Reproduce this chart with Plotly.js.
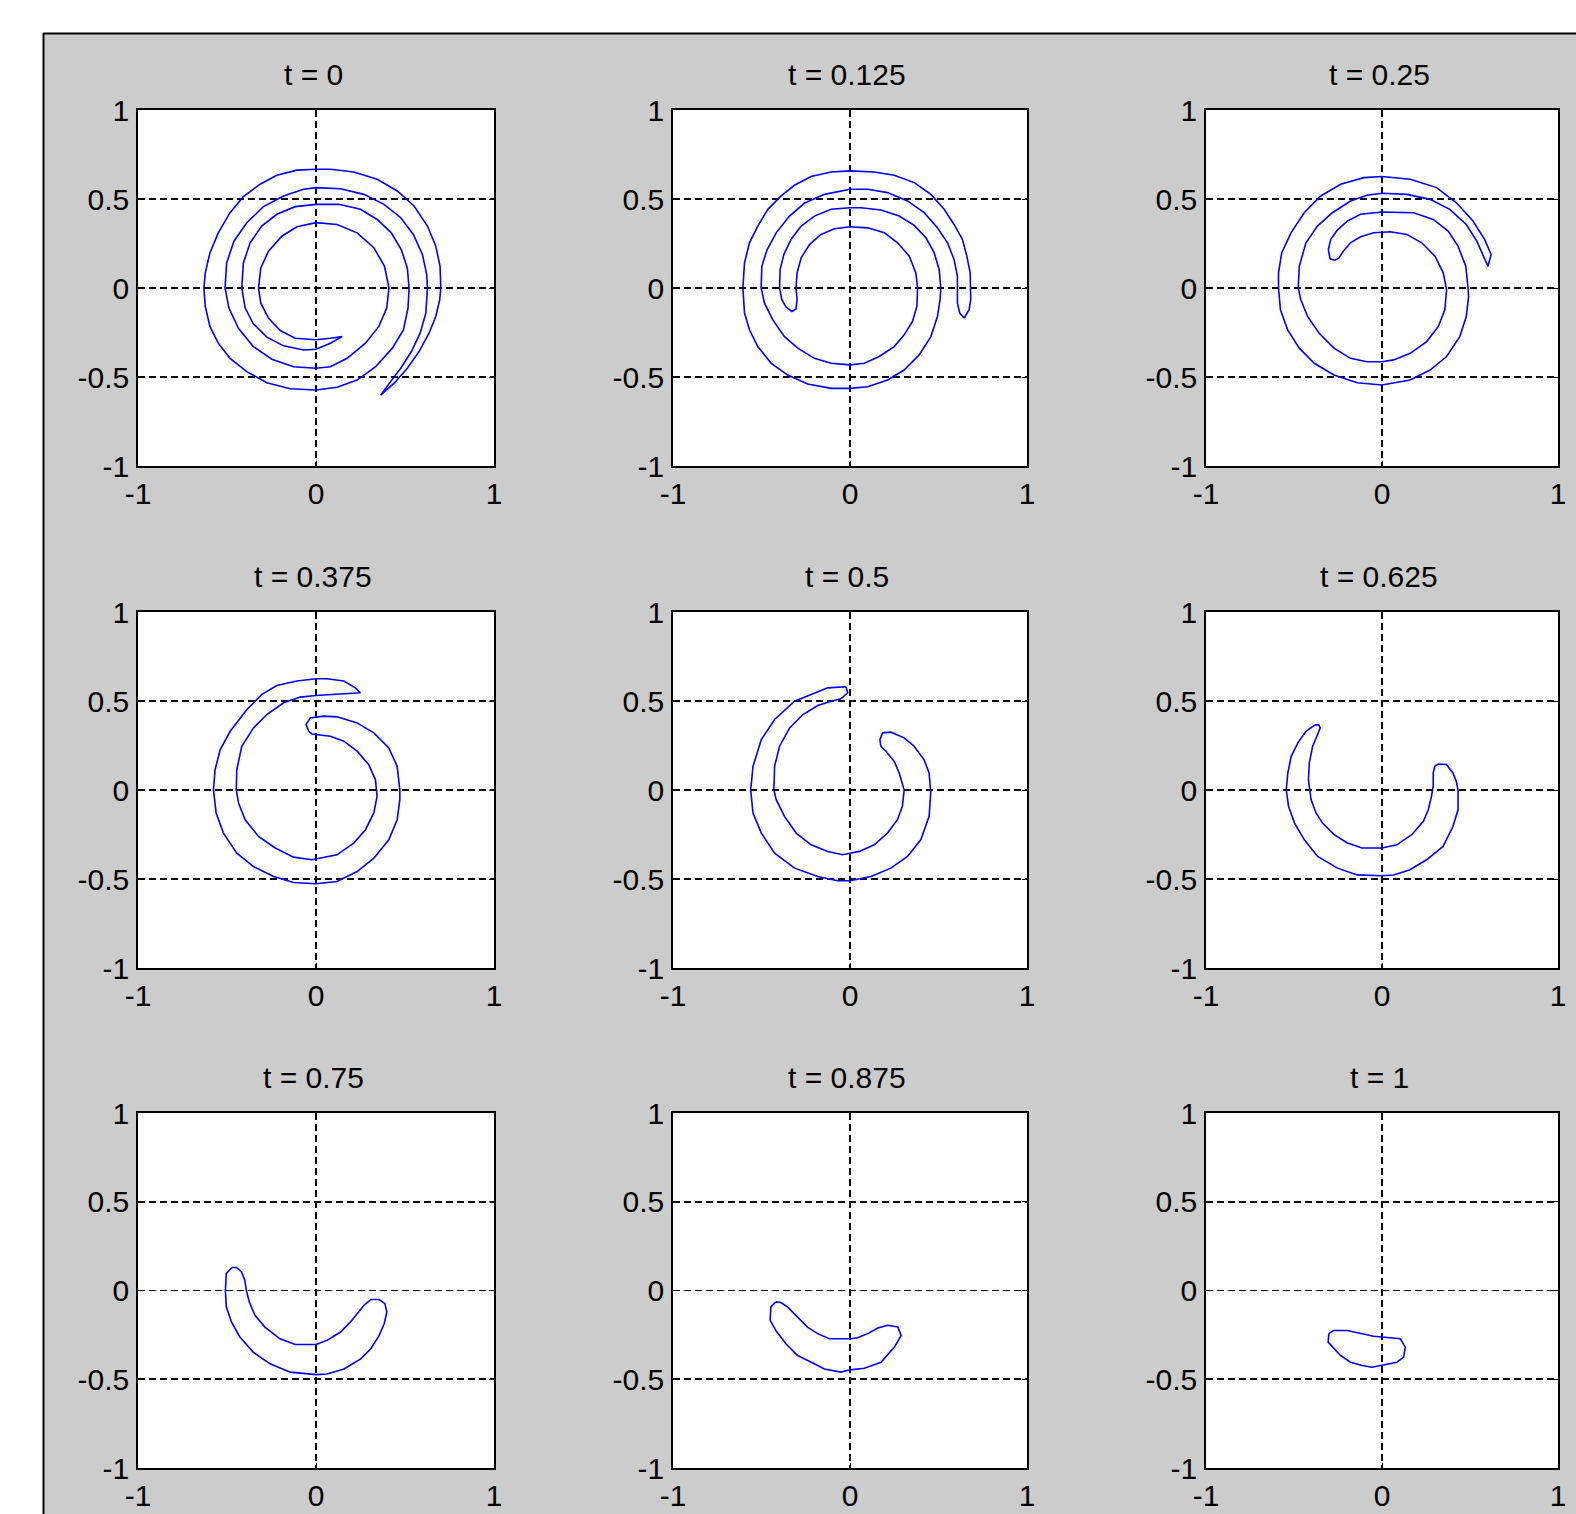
<!DOCTYPE html>
<html><head><meta charset="utf-8">
<script src="https://cdn.plot.ly/plotly-3.0.1.min.js"></script>
<style>html,body{margin:0;padding:0;background:#fff;overflow:hidden}</style>
</head><body><div id="chart" style="width:1576px;height:1514px"></div>
<script>
const titles = ['t = 0','t = 0.125','t = 0.25','t = 0.375','t = 0.5','t = 0.625','t = 0.75','t = 0.875','t = 1'];
const xTickVals = [-1,0,1];
const xTickText = ['-1','0','1'];
const yTickVals = [-1,-0.5,0,0.5,1];
const yTickText = ['-1','-0.5','0','0.5','1'];

const x_t0 = [0.363,0.438,0.513,0.579,0.635,0.673,0.695,0.701,0.697,0.673,0.626,0.551,0.457,0.344,0.212,0.081,0,-0.107,-0.220,-0.314,-0.408,-0.483,-0.549,-0.596,-0.622,-0.630,-0.622,-0.596,-0.549,-0.483,-0.389,-0.276,-0.145,0,0.118,0.231,0.335,0.429,0.491,0.517,0.523,0.513,0.479,0.423,0.344,0.250,0.128,0,-0.117,-0.220,-0.305,-0.370,-0.408,-0.417,-0.398,-0.352,-0.276,-0.182,-0.070,0,0.081,0.147,0.081,0,-0.117,-0.201,-0.267,-0.310,-0.323,-0.310,-0.267,-0.192,-0.107,0,0.118,0.231,0.325,0.385,0.410,0.397,0.353,0.278,0.175,0.081,0,-0.126,-0.248,-0.352,-0.436,-0.489,-0.511,-0.502,-0.461,-0.389,-0.295,-0.182,-0.070,0,0.137,0.269,0.382,0.476,0.547,0.598,0.622,0.626,0.617,0.585,0.536,0.476,0.419,0.363];
const y_t0 = [-0.602,-0.536,-0.451,-0.357,-0.254,-0.160,-0.066,0,0.122,0.235,0.348,0.461,0.545,0.611,0.652,0.667,0.667,0.662,0.633,0.583,0.513,0.423,0.310,0.197,0.085,0,-0.103,-0.216,-0.310,-0.395,-0.470,-0.532,-0.566,-0.573,-0.558,-0.517,-0.442,-0.338,-0.235,-0.113,0,0.113,0.216,0.310,0.385,0.442,0.470,0.470,0.457,0.414,0.348,0.254,0.141,0,-0.113,-0.201,-0.276,-0.325,-0.348,-0.344,-0.310,-0.273,-0.282,-0.291,-0.282,-0.239,-0.169,-0.085,0,0.113,0.207,0.291,0.344,0.367,0.357,0.310,0.226,0.122,0,-0.113,-0.216,-0.310,-0.395,-0.442,-0.451,-0.442,-0.400,-0.329,-0.226,-0.113,0,0.141,0.263,0.367,0.457,0.517,0.555,0.564,0.558,0.526,0.470,0.395,0.301,0.188,0.075,0,-0.141,-0.254,-0.357,-0.451,-0.526,-0.602];

const x_t0125 = [0.645,0.673,0.682,0.682,0.679,0.660,0.635,0.588,0.532,0.457,0.363,0.250,0.137,0,-0.107,-0.220,-0.314,-0.389,-0.464,-0.521,-0.568,-0.596,-0.605,-0.596,-0.568,-0.521,-0.445,-0.352,-0.239,-0.107,0,0.100,0.212,0.306,0.391,0.457,0.494,0.509,0.513,0.504,0.476,0.429,0.363,0.278,0.175,0.062,0,-0.107,-0.201,-0.276,-0.333,-0.374,-0.395,-0.398,-0.385,-0.361,-0.329,
  -0.305,-0.299,-0.305,-0.299,-0.276,-0.229,-0.164,-0.088,0,0.100,0.194,0.269,0.335,0.372,0.382,0.378,0.353,0.306,0.250,0.165,0.081,0,-0.107,-0.201,-0.295,-0.370,-0.436,-0.483,-0.502,-0.498,-0.468,-0.417,-0.342,-0.258,-0.145,0,0.100,0.212,0.325,0.419,0.494,0.551,0.588,0.607,0.607,0.607,0.620,0.645];
const y_t0125 = [-0.169,-0.122,-0.066,0,0.085,0.179,0.273,0.357,0.442,0.526,0.592,0.633,0.652,0.658,0.652,0.626,0.577,0.517,0.442,0.348,0.254,0.141,0,-0.141,-0.235,-0.329,-0.423,-0.489,-0.539,-0.564,-0.564,-0.555,-0.517,-0.461,-0.376,-0.273,-0.160,-0.066,0,0.103,0.197,0.282,0.352,0.404,0.438,0.451,0.451,0.442,0.404,0.348,0.273,0.188,0.103,0,-0.066,-0.107,-0.132,
  -0.118,-0.066,0,0.085,0.169,0.244,0.301,0.333,0.344,0.338,0.310,0.254,0.179,0.085,0,-0.103,-0.188,-0.263,-0.329,-0.385,-0.423,-0.432,-0.423,-0.395,-0.338,-0.273,-0.179,-0.085,0,0.122,0.216,0.310,0.404,0.476,0.526,0.555,0.555,0.536,0.489,0.423,0.338,0.254,0.160,0.066,0,-0.085,-0.141,-0.169];

const x_t025 = [0.602,0.620,0.583,0.517,0.423,0.310,0.160,0,-0.103,-0.235,-0.348,-0.442,-0.517,-0.570,-0.588,-0.588,-0.577,-0.536,-0.470,-0.385,-0.273,-0.141,0,0.160,0.273,0.367,0.442,0.479,0.492,0.489,0.476,0.432,0.376,0.291,0.179,0,-0.122,-0.197,-0.254,-0.291,-0.305,-0.295,-0.269,
  -0.244,-0.220,-0.179,-0.122,-0.047,0.047,0.141,0.226,0.301,0.348,0.367,0.357,0.320,0.254,0.160,0.066,0,-0.085,-0.179,-0.273,-0.357,-0.423,-0.461,-0.476,-0.470,-0.432,-0.367,-0.282,-0.179,-0.085,0,0.141,0.273,0.385,0.479,0.539,0.577,0.598,0.602];
const y_t025 = [0.122,0.188,0.273,0.376,0.479,0.564,0.611,0.626,0.620,0.583,0.517,0.423,0.310,0.197,0.085,0,-0.122,-0.235,-0.338,-0.423,-0.489,-0.532,-0.545,-0.517,-0.461,-0.385,-0.273,-0.160,-0.047,0,0.122,0.235,0.320,0.385,0.423,0.427,0.414,0.376,0.325,0.273,0.216,0.164,0.156,
  0.169,0.207,0.254,0.288,0.310,0.316,0.301,0.254,0.179,0.085,-0.009,-0.122,-0.216,-0.301,-0.367,-0.404,-0.414,-0.414,-0.395,-0.338,-0.254,-0.160,-0.066,0,0.122,0.254,0.348,0.423,0.489,0.521,0.532,0.526,0.498,0.442,0.357,0.263,0.179,0.132,0.122];

const x_t0375 = [0.250,0.221,0.156,0.062,0,-0.107,-0.220,-0.304,-0.388,-0.482,-0.538,-0.567,-0.576,-0.561,-0.520,-0.445,-0.351,-0.238,-0.126,0,0.118,0.231,0.325,0.409,0.456,0.471,0.471,0.456,0.409,0.325,0.231,0.118,0.043,-0.032,-0.056,-0.041,-0.023,
  0.006,0.081,0.156,0.231,0.296,0.334,0.343,0.325,0.278,0.212,0.118,0.024,-0.023,-0.126,-0.229,-0.323,-0.398,-0.435,-0.448,-0.445,-0.417,-0.351,-0.276,-0.182,-0.088,0,0.099,0.193,0.250];
const y_t0375 = [0.546,0.574,0.612,0.625,0.625,0.612,0.587,0.537,0.452,0.330,0.227,0.114,0,-0.129,-0.242,-0.355,-0.430,-0.486,-0.520,-0.527,-0.514,-0.458,-0.383,-0.280,-0.167,-0.054,0,0.133,0.236,0.321,0.377,0.411,0.415,0.405,0.368,0.330,0.315,
  0.311,0.302,0.274,0.218,0.143,0.058,-0.036,-0.129,-0.223,-0.298,-0.364,-0.383,-0.392,-0.377,-0.326,-0.261,-0.167,-0.073,0,0.114,0.246,0.349,0.424,0.490,0.522,0.531,0.537,0.540,0.546];

const x_t05 = [-0.023,-0.126,-0.220,-0.313,-0.426,-0.501,-0.548,-0.561,-0.548,-0.501,-0.426,-0.313,-0.182,-0.069,0,0.118,0.231,0.325,0.400,0.447,0.456,0.447,0.418,0.362,0.306,0.231,0.184,0.169,0.174,
  0.203,0.250,0.278,0.306,0.296,0.268,0.212,0.137,0.053,0,-0.041,-0.126,-0.220,-0.304,-0.370,-0.417,-0.430,-0.426,-0.398,-0.341,-0.266,-0.182,-0.107,-0.051,-0.013,-0.023];
const y_t05 = [0.580,0.574,0.537,0.499,0.396,0.283,0.133,0,-0.129,-0.242,-0.355,-0.439,-0.486,-0.510,-0.510,-0.486,-0.439,-0.373,-0.280,-0.148,-0.017,0.096,0.171,0.246,0.293,0.325,0.321,0.283,0.246,
  0.218,0.161,0.096,0,-0.092,-0.167,-0.242,-0.308,-0.345,-0.355,-0.364,-0.345,-0.308,-0.242,-0.148,-0.054,0,0.133,0.246,0.349,0.424,0.475,0.499,0.512,0.546,0.580];

const x_t0625 = [-0.381,-0.432,-0.478,-0.516,-0.535,-0.544,-0.531,-0.497,-0.441,-0.366,-0.253,-0.141,0,0.066,0.159,0.253,0.347,0.403,0.432,0.432,0.422,0.403,0.366,0.319,0.300,0.291,0.291,0.281,0.263,0.235,0.169,0.084,0,-0.113,-0.197,-0.272,-0.338,-0.375,-0.403,-0.418,-0.413,-0.394,-0.370,-0.351,-0.360,-0.381];
const y_t0625 = [0.366,0.330,0.265,0.189,0.096,0,-0.092,-0.186,-0.280,-0.373,-0.439,-0.477,-0.482,-0.478,-0.448,-0.392,-0.317,-0.205,-0.111,0,0.049,0.096,0.143,0.146,0.133,0.096,0.021,-0.036,-0.111,-0.176,-0.251,-0.308,-0.326,-0.326,-0.298,-0.251,-0.186,-0.129,-0.054,0.058,0.152,0.246,0.302,0.349,0.366,0.366];

const x_t075 = [-0.472,-0.504,-0.509,-0.504,-0.475,-0.428,-0.353,-0.258,-0.145,0,0.062,0.157,0.251,0.308,0.355,0.383,0.398,0.387,0.355,0.308,0.270,0.232,0.194,0.138,0.062,0,-0.117,-0.202,-0.287,-0.343,-0.375,-0.391,-0.400,-0.419,-0.447,-0.472];
const y_t075 = [0.130,0.096,0,-0.092,-0.177,-0.262,-0.347,-0.413,-0.460,-0.474,-0.470,-0.442,-0.385,-0.328,-0.253,-0.187,-0.121,-0.074,-0.051,-0.051,-0.083,-0.130,-0.177,-0.234,-0.281,-0.304,-0.304,-0.272,-0.206,-0.140,-0.064,0,0.058,0.106,0.130,0.130];

const x_t0875 = [-0.419,-0.447,-0.451,-0.419,-0.362,-0.296,-0.202,-0.145,-0.051,0,0.081,0.175,0.251,0.289,0.270,0.213,0.157,0.100,0.043,0,-0.117,-0.183,-0.240,-0.296,-0.353,-0.391,-0.419];
const y_t0875 = [-0.064,-0.092,-0.168,-0.225,-0.300,-0.366,-0.413,-0.442,-0.460,-0.447,-0.438,-0.404,-0.319,-0.253,-0.206,-0.196,-0.211,-0.243,-0.266,-0.272,-0.272,-0.243,-0.206,-0.149,-0.092,-0.068,-0.064];

const x_t1 = [-0.302,-0.274,-0.198,-0.123,-0.047,0,0.104,0.132,0.123,0.085,0,-0.057,-0.113,-0.179,-0.236,-0.283,-0.306,-0.302];
const y_t1 = [-0.243,-0.225,-0.225,-0.243,-0.258,-0.262,-0.272,-0.319,-0.375,-0.404,-0.423,-0.432,-0.423,-0.404,-0.366,-0.319,-0.291,-0.243];

const curveX = [x_t0, x_t0125, x_t025, x_t0375, x_t05, x_t0625, x_t075, x_t0875, x_t1];
const curveY = [y_t0, y_t0125, y_t025, y_t0375, y_t05, y_t0625, y_t075, y_t0875, y_t1];

const W = 1576, H = 1514;
const colPx = [[138,494],[673,1027],[1206,1558]];
const rowPx = [[110,466],[612,968],[1113,1468]];
const FONT = 'Liberation Sans, Arial, Helvetica, sans-serif';

const traces = [];
const layout = {
  width: W, height: H,
  margin: {l:0, r:0, t:0, b:0, pad:0},
  paper_bgcolor: '#cccccc',
  plot_bgcolor: '#ffffff',
  showlegend: false,
  font: {family: FONT, size: 30, color: '#000'},
  annotations: [],
  shapes: [
    {type:'rect', xref:'paper', yref:'paper', x0:0, x1:1, y0:1-33/H, y1:1, fillcolor:'#ffffff', line:{width:0}, layer:'below'},
    {type:'rect', xref:'paper', yref:'paper', x0:0, x1:43/W, y0:0, y1:1, fillcolor:'#ffffff', line:{width:0}, layer:'below'},
    {type:'line', xref:'paper', yref:'paper', x0:43/W, x1:1, y0:1-33.5/H, y1:1-33.5/H, line:{color:'#000', width:2}},
    {type:'line', xref:'paper', yref:'paper', x0:43.5/W, x1:43.5/W, y0:0, y1:1-33/H, line:{color:'#000', width:2}}
  ]
};

for (let i = 0; i < 9; i++) {
  const r = Math.floor(i / 3), c = i % 3;
  const n = i === 0 ? '' : String(i + 1);
  traces.push({
    type: 'scatter', mode: 'lines',
    x: curveX[i], y: curveY[i],
    xaxis: 'x' + n, yaxis: 'y' + n,
    line: {color: '#0000ff', width: 1.6},
    hoverinfo: 'skip'
  });
  const common = {
    range: [-1, 1], autorange: false, fixedrange: true,
    showgrid: true, gridcolor: '#000000', gridwidth: 1.6, griddash: '7px,4px',
    zeroline: false,
    showline: true, linecolor: '#000000', linewidth: 1.8, mirror: 'ticks',
    ticks: 'inside', ticklen: 5, tickcolor: '#000000', tickwidth: 1,
    tickfont: {family: FONT, size: 30, color: '#000'},
    tickmode: 'array'
  };
  layout['xaxis' + n] = Object.assign({}, common, {
    domain: [colPx[c][0] / W, colPx[c][1] / W],
    anchor: 'y' + n,
    tickvals: xTickVals, ticktext: xTickText,
    ticklabelstandoff: 0
  });
  layout['yaxis' + n] = Object.assign({}, common, {
    domain: [1 - rowPx[r][1] / H, 1 - rowPx[r][0] / H],
    anchor: 'x' + n,
    tickvals: yTickVals, ticktext: yTickText,
    ticklabelstandoff: 1
  });
  layout.annotations.push({
    text: titles[i], showarrow: false,
    xref: 'paper', yref: 'paper',
    x: ((colPx[c][0] + colPx[c][1]) / 2 - 3) / W,
    y: 1 - (rowPx[r][0] - 35.5) / H,
    xanchor: 'center', yanchor: 'middle',
    font: {family: FONT, size: 30, color: '#000'}
  });
}

Plotly.newPlot('chart', traces, layout, {displayModeBar: false, staticPlot: true});
</script>
</body></html>
